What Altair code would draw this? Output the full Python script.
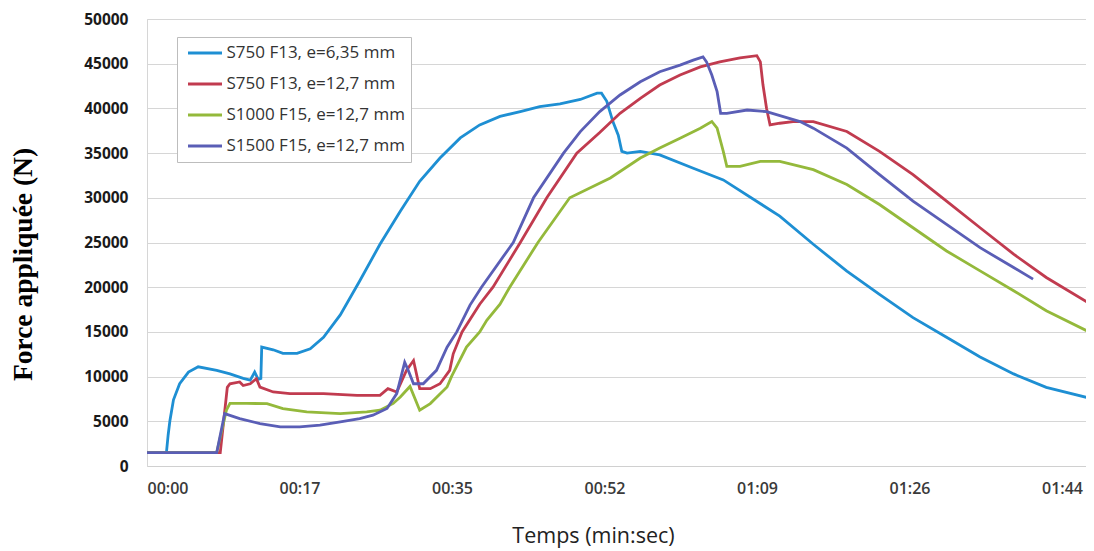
import altair as alt
import pandas as pd

# ---- data (time in seconds, force in N) ----
series_names = [
    "S750 F13, e=6,35 mm",
    "S750 F13, e=12,7 mm",
    "S1000 F15, e=12,7 mm",
    "S1500 F15, e=12,7 mm",
]
series_colors = ["#1e8fd3", "#c13b4f", "#94b93b", "#5a5eb6"]

s750_635 = [
    (0, 1500), (2.2, 1500), (2.4, 3500), (2.6, 5100), (3.0, 7400), (3.7, 9200),
    (4.7, 10500), (5.8, 11100), (7.9, 10700), (9.4, 10300), (10.9, 9800),
    (11.7, 9600), (12.2, 10500), (12.6, 9700), (12.9, 9800), (13.0, 13300),
    (14.3, 13000), (15.4, 12600), (17.0, 12600), (18.5, 13100), (20.0, 14400),
    (21.9, 16900), (24.1, 20700), (26.4, 24800), (28.7, 28500), (30.9, 31850),
    (33.2, 34450), (35.5, 36700), (37.7, 38150), (40.0, 39100), (42.3, 39650),
    (44.5, 40200), (46.8, 40500), (49.1, 41000), (51.0, 41700), (51.5, 41700),
    (52.1, 40800), (52.8, 38500), (53.4, 37000), (53.8, 35200), (54.4, 35000),
    (55.9, 35200), (58.1, 34800), (61.9, 33300), (65.3, 32000), (71.7, 27950),
    (75.5, 24800), (79.3, 21800), (83.0, 19200), (86.8, 16600), (90.6, 14400),
    (94.4, 12200), (98.2, 10300), (101.9, 8800), (107.2, 7500),
]

s750_127 = [
    (0, 1500), (8.3, 1500), (9.1, 8800), (9.4, 9200), (10.5, 9400), (10.9, 9000),
    (11.7, 9200), (12.4, 9770), (12.8, 8830), (14.3, 8280), (16.2, 8100),
    (20.0, 8100), (23.8, 7900), (26.4, 7900), (27.3, 8650), (28.3, 8280),
    (29.4, 10700), (30.2, 11800), (30.9, 8650), (32.1, 8650), (33.2, 9200),
    (34.3, 10700), (34.7, 12550), (35.7, 15000), (37.7, 18100), (39.2, 20000),
    (42.3, 25000), (45.3, 30000), (48.7, 35000), (51.3, 37300), (53.6, 39450),
    (55.9, 41130), (58.1, 42610), (60.4, 43730), (62.7, 44650), (64.9, 45210),
    (67.2, 45650), (69.1, 45900), (69.5, 45210), (69.8, 42610), (70.2, 40010),
    (70.6, 38150), (71.7, 38340), (73.2, 38530), (75.5, 38530), (79.3, 37420),
    (83.0, 35200), (86.8, 32600), (90.6, 29620), (94.4, 26650), (98.2, 23690),
    (101.9, 21090), (107.2, 17930),
]

s1000_127 = [
    (0, 1500), (7.9, 1500), (9.0, 6240), (9.4, 7000), (11.3, 7000), (13.6, 6980),
    (15.4, 6430), (18.1, 6050), (21.9, 5860), (24.9, 6050), (26.4, 6240),
    (27.9, 7000), (28.7, 7720), (29.8, 8900), (30.9, 6240), (32.1, 6980),
    (34.0, 8830), (34.5, 10000), (36.2, 13300), (37.7, 15000), (38.5, 16300),
    (40.0, 18100), (41.1, 20000), (44.3, 25000), (47.9, 30000), (52.5, 32220),
    (55.9, 34450), (58.1, 35560), (60.4, 36670), (62.7, 37790), (64.0, 38540),
    (64.6, 37790), (65.3, 35200), (65.7, 33520), (67.2, 33520), (69.5, 34080),
    (71.7, 34080), (75.5, 33150), (79.3, 31480), (83.0, 29250), (86.8, 26650),
    (90.6, 24050), (94.4, 21830), (98.2, 19600), (101.9, 17370), (107.2, 14780),
]

s1500_127 = [
    (0, 1500), (7.9, 1500), (8.8, 5860), (10.5, 5300), (12.8, 4750), (15.1, 4380),
    (17.3, 4380), (19.6, 4570), (21.9, 4940), (24.1, 5300), (25.6, 5680),
    (27.2, 6430), (28.3, 8100), (29.2, 11600), (29.6, 10700), (30.2, 9200),
    (31.3, 9200), (32.8, 10700), (34.0, 13290), (35.1, 15000), (36.6, 18000),
    (37.9, 20000), (41.5, 25000), (43.8, 30000), (47.2, 35000), (49.1, 37400),
    (51.3, 39640), (53.6, 41500), (55.9, 42980), (58.1, 44100), (60.4, 44840),
    (61.9, 45400), (63.0, 45770), (63.4, 45210), (64.0, 43730), (64.6, 41870),
    (65.0, 39450), (65.7, 39450), (68.0, 39820), (70.2, 39640), (74.0, 38530),
    (75.5, 37790), (79.3, 35560), (83.0, 32600), (86.8, 29620), (90.6, 27020),
    (94.4, 24420), (98.2, 22200), (100.4, 20900),
]

tick_seconds = [0, 17.28, 34.56, 51.84, 69.12, 86.4, 103.68]
tick_labels = ["00:00", "00:17", "00:35", "00:52", "01:09", "01:26", "01:44"]
y_ticks = list(range(0, 50001, 5000))

rows = []
for name, pts in zip(series_names, [s750_635, s750_127, s1000_127, s1500_127]):
    for i, (t, f) in enumerate(pts):
        rows.append({"serie": name, "t": t, "force": f, "i": i})
df = pd.DataFrame(rows)

label_array = "[" + ",".join("'%s'" % s for s in tick_labels) + "]"

chart = (
    alt.Chart(df)
    .mark_line(strokeWidth=2.8, clip=True)
    .encode(
        x=alt.X(
            "t:Q",
            scale=alt.Scale(domain=[0, 106.4], nice=False, zero=False),
            axis=alt.Axis(
                values=tick_seconds,
                labelExpr=label_array + "[round(datum.value / 17.28)]",
                title="Temps (min:sec)",
                grid=False,
                ticks=False,
                tickSize=0,
                domainColor="#d0d0d0",
                labelFont="Open Sans",
                labelFontSize=16,
                labelFontWeight=600,
                labelColor="#3a3a3a",
                labelPadding=14,
                titleFont="Open Sans",
                titleFontSize=21.5,
                titleFontWeight="normal",
                titleColor="#222222",
                titleX=446,
                titleY=76,
                titleAlign="center",
                titleBaseline="alphabetic",
            ),
        ),
        y=alt.Y(
            "force:Q",
            scale=alt.Scale(domain=[0, 50000], nice=False),
            axis=alt.Axis(
                values=y_ticks,
                format="d",
                title="Force appliquée (N)",
                grid=True,
                gridColor="#d6d6d6",
                gridWidth=1,
                ticks=False,
                tickSize=0,
                domainColor="#d6d6d6",
                labelFont="Open Sans",
                labelFontSize=15.5,
                labelFontWeight="bold",
                labelColor="#1a1a1a",
                labelPadding=19,
                titleFont="Liberation Serif",
                titleFontSize=27.5,
                titleFontWeight="bold",
                titleColor="#000000",
                titleAngle=270,
                titleX=-124,
                titleY=245,
                titleAlign="center",
                titleBaseline="middle",
            ),
        ),
        color=alt.Color(
            "serie:N",
            scale=alt.Scale(domain=series_names, range=series_colors),
            legend=alt.Legend(
                title=None,
                orient="none",
                legendX=30,
                legendY=18,
                direction="vertical",
                strokeColor="#bdbdbd",
                fillColor="#ffffff",
                padding=6,
                clipHeight=20,
                symbolType="stroke",
                symbolStrokeWidth=3,
                symbolSize=1156,
                symbolOffset=3.5,
                labelFont="Open Sans",
                labelFontSize=17,
                labelColor="#333333",
                labelOffset=3,
                labelLimit=0,
                rowPadding=11,
            ),
        ),
        order="i:Q",
    )
    .properties(
        width=939,
        height=447,
        padding={"left": 139, "top": 11, "right": 0, "bottom": 82},
        autosize=alt.AutoSizeParams(type="none"),
    )
    .configure_view(stroke=None)
    .configure(background="#ffffff")
)

chart.save("out.html", embed_options={"renderer": "svg", "actions": False})
